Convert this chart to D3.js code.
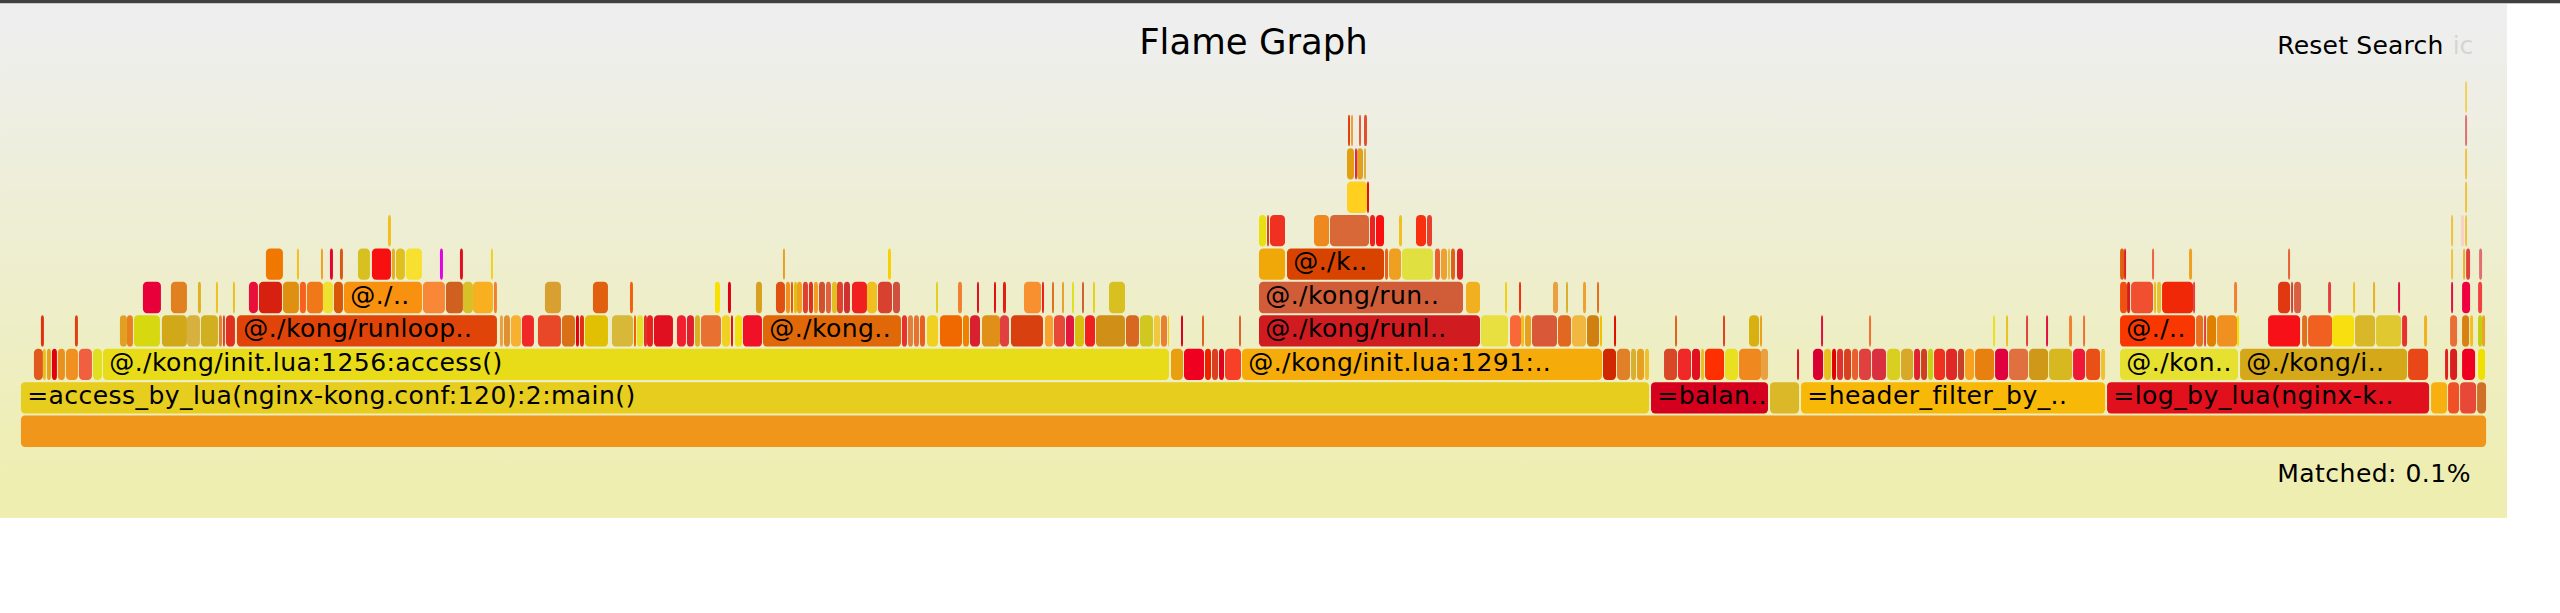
<!DOCTYPE html>
<html><head><meta charset="utf-8">
<script src="https://d3js.org/d3.v7.min.js"></script>
<style>
html,body{margin:0;padding:0;background:#fff;}
#topbar{height:3px;background:#404040;border-bottom:1px solid #c8c8c8;width:2560px;}
#chart svg{display:block;}
text{font-family:Verdana,"DejaVu Sans",sans-serif;}
</style></head><body>
<div id="topbar"></div>
<div id="chart"></div>
<script>
// ---- data: sample offsets / sample counts per stack depth ----
const totalSamples = 2465;
const titleText = "Flame Graph";
const searchText = "Reset Search";
const icText = "ic";
const matchedText = "Matched: 0.1%";

const depth0 = [[0,2465,""]];
const depth1 = [[0,1628,"=access_by_lua(nginx-kong.conf:120):2:main()"],[1630,117,"=balan.."],[1749,29],[1780,304,"=header_filter_by_.."],[2086,322,"=log_by_lua(nginx-k.."],[2410,16],[2427,11],[2439,16],[2456,9]];
const depth2 = [[13,9],[22,3],[26,4],[31,5],[37,7],[45,12],[58,13],[72,9],[82,1066,"@./kong/init.lua:1256:access()"],[1150,12],[1163,20],[1184,6],[1191,6],[1198,5],[1204,16],[1221,360,"@./kong/init.lua:1291:.."],[1582,13],[1596,13],[1610,5],[1616,7],[1624,4],[1643,13],[1657,13],[1671,8],[1680,3],[1684,19],[1704,13],[1718,22],[1740,7],[1776,2],[1792,10],[1803,7],[1811,4],[1816,6],[1823,7],[1831,6],[1838,12],[1851,14],[1866,13],[1880,12],[1893,6],[1900,6],[1907,5],[1913,11],[1925,11],[1937,6],[1944,9],[1954,19],[1974,13],[1988,19],[2008,19],[2028,23],[2052,12],[2065,14],[2080,4],[2099,118,"@./kon.."],[2219,167,"@./kong/i.."],[2387,20],[2424,3],[2429,7],[2441,13],[2457,7]];
const depth3 = [[20,3],[54,3],[99,7],[106,6],[113,26],[141,25],[166,13],[180,17],[198,3],[202,2],[205,9],[216,260,"@./kong/runloop.."],[479,3],[483,6],[490,10],[501,12],[517,23],[541,13],[555,3],[559,4],[564,23],[591,21],[613,2],[616,6],[623,3],[626,6],[633,19],[656,9],[666,7],[674,5],[680,20],[701,8],[710,2],[714,7],[722,19],[742,138,"@./kong.."],[881,5],[887,5],[893,5],[899,5],[906,11],[919,22],[942,6],[949,10],[961,18],[979,9],[990,32],[1024,8],[1033,11],[1045,8],[1054,9],[1064,10],[1075,29],[1105,13],[1119,13],[1133,6],[1140,6],[1147,1],[1160,2],[1181,2],[1218,2],[1238,221,"@./kong/runl.."],[1460,27],[1489,11],[1500,3],[1504,6],[1511,25],[1537,13],[1551,14],[1566,12],[1579,2],[1593,2],[1654,2],[1702,2],[1728,10],[1739,2],[1800,2],[1848,2],[1972,2],[1985,2],[2005,2],[2025,2],[2048,3],[2062,2],[2099,75,"@./.."],[2175,7],[2183,2],[2186,9],[2196,20],[2216,2],[2247,32],[2281,5],[2287,24],[2311,22],[2334,20],[2355,25],[2381,5],[2403,3],[2429,7],[2441,7],[2449,3],[2457,4],[2461,3]];
const depth4 = [[122,18],[150,16],[177,3],[195,2],[212,2],[228,9],[238,23],[262,16],[279,6],[286,16],[302,10],[313,9],[323,78,"@./.."],[402,22],[425,17],[442,10],[452,20],[473,3],[524,16],[572,15],[609,3],[694,5],[707,3],[735,6],[755,9],[765,4],[770,2],[773,3],[776,5],[782,5],[788,4],[793,4],[798,6],[805,5],[811,5],[816,6],[823,6],[831,15],[846,10],[857,14],[872,7],[915,2],[937,4],[956,2],[973,2],[982,3],[1003,17],[1021,2],[1031,2],[1041,2],[1051,2],[1061,2],[1072,2],[1088,16],[1238,204,"@./kong/run.."],[1445,14],[1484,2],[1498,2],[1532,5],[1545,2],[1562,3],[1576,2],[2099,7],[2106,3],[2110,22],[2133,2],[2136,4],[2141,31],[2172,2],[2213,3],[2257,12],[2270,2],[2273,7],[2307,3],[2332,2],[2352,2],[2377,2],[2430,2],[2441,8],[2457,4]];
const depth5 = [[245,17],[276,2],[300,2],[309,3],[319,3],[337,12],[351,19],[371,3],[375,9],[385,16],[419,3],[439,3],[470,2],[762,2],[867,3],[1238,26],[1266,97,"@./k.."],[1364,3],[1368,12],[1381,31],[1414,5],[1420,6],[1427,2],[1430,4],[1436,6],[2099,4],[2103,2],[2131,2],[2168,3],[2267,2],[2430,2],[2442,2],[2445,4],[2458,3]];
const depth6 = [[367,3],[1238,7],[1246,2],[1249,15],[1293,15],[1309,39],[1349,5],[1355,8],[1378,3],[1395,10],[1406,5],[2430,2],[2440,3],[2444,2]];
const depth7 = [[1326,20],[1346,2],[2444,2]];
const depth8 = [[1326,7],[1334,2],[1336,6],[1343,2],[2444,2]];
const depth9 = [[1327,2],[1330,2],[1338,2],[1343,3],[2444,2]];
const depth10 = [[2444,2]];

// ---- frame fills (random "hot" palette as in the picture), parallel to the rows above ----
const fill0 = ["#f0961a"];
const fill1 = ["#e6cd1e","#d4001e","#dab828","#f8b808","#e0101c","#f8b010","#f05028","#e84838","#d07028"];
const fill2 = ["#e05a20","#e8c020","#e8a020","#e00010","#e89020","#f09020","#f06040","#e0e020","#e8dc18","#e8a010","#f00020","#f02000","#d84020","#e00020","#f84028","#f5ac0a","#d02800","#e08028","#d8b030","#e8a020","#f0c030","#d84828","#f02828","#e01020","#e8c020","#ff3000","#e8e020","#f08820","#e8a040","#e01020","#d80030","#e8c020","#e00000","#e03030","#d84020","#e86030","#e04040","#d83040","#d8d020","#d8a828","#e02030","#d04020","#c8d010","#f03020","#e02828","#c84028","#f8a020","#e88010","#e00040","#e07040","#d09818","#d8b820","#f01838","#e85018","#f0c030","#e6e030","#d4a818","#e84818","#e02020","#d82020","#f00020","#f0e000"];
const fill3 = ["#e03010","#e04010","#e0a020","#e88020","#d8d810","#d0a818","#d8b040","#d0b020","#e08030","#e04020","#e03020","#e04408","#e8a040","#e09030","#f8b030","#f02828","#e84828","#d87018","#e00010","#e03010","#e0c000","#d8b838","#f06000","#e8e020","#e03020","#e82020","#e01020","#f02030","#e02030","#d8b020","#e87030","#f0d020","#e01010","#f0e010","#f01028","#e06808","#e83030","#e08040","#e87030","#e86020","#f0d020","#f06800","#f08000","#d82030","#e09018","#e04040","#d84010","#f8a030","#e84838","#e01840","#d8c010","#f02020","#d09018","#d86820","#d0c820","#f0c840","#e88030","#f0d000","#d80020","#e06020","#e06030","#d01c20","#e8e040","#f86838","#f0c020","#e8a020","#d85838","#e06820","#f0b840","#d08010","#f0c000","#e01000","#e06020","#e04020","#d8b010","#e8a020","#e01040","#f07030","#e8e020","#e8c020","#e04040","#e01040","#f08030","#f07030","#f83800","#e87020","#e04040","#e08000","#f09020","#f0e000","#f81018","#e07020","#f06020","#f8e010","#d8b828","#e0c830","#e83030","#f0b020","#e87038","#d88010","#f0c020","#c0d010","#f0a020"];
const fill4 = ["#e8003a","#e08020","#e0b020","#f0c020","#e8c020","#e8103a","#d82010","#e09010","#f86020","#f07818","#f0e030","#d85808","#f89010","#f88838","#d06020","#d8c028","#f8b020","#f08030","#d8a030","#e06010","#f06010","#f8e000","#e00010","#d8a020","#e05010","#f09020","#f05000","#e0c010","#f0a020","#e04030","#e03020","#f0a020","#d05030","#e06040","#e0c020","#e04030","#d03030","#f02020","#f0c020","#d84030","#d05040","#e0d020","#f08030","#e01020","#e01010","#e02010","#f89030","#e82020","#e07020","#e8a030","#e0e020","#d06030","#e8d020","#d8c020","#d05c38","#f0b020","#f0d010","#f03010","#e8a040","#d8b030","#f0a030","#e07020","#f05010","#d02020","#f05030","#e0c020","#e8c030","#f02808","#e04040","#f08030","#e03810","#d04040","#d86040","#e04040","#f0c020","#e8b020","#e01040","#e01040","#f00040","#f04040"];
const fill5 = ["#f07800","#f0c020","#f0a020","#e80030","#d85818","#d8c020","#f81010","#e0b020","#e0c020","#f8e030","#e600e6","#e01020","#f0d020","#e8a020","#f8d000","#f0a808","#d84400","#e86020","#f0a020","#e0e040","#e86030","#f0a030","#e0c040","#e06020","#e02020","#e06010","#e02020","#f06040","#f0a020","#e86030","#f0c040","#f0b020","#e04040","#e07070"];
const fill6 = ["#f0c020","#e8e010","#e04010","#f03020","#f08820","#d86838","#f02020","#f81010","#f0c020","#f83010","#e84030","#f0c040","#f8d0c8","#f0c040"];
const fill7 = ["#ffd020","#e01010","#f0c040"];
const fill8 = ["#e0a010","#e02060","#e0a020","#e0b040","#f0c040"];
const fill9 = ["#e04010","#f0a030","#e06040","#e05030","#e07070"];
const fill10 = ["#f0d060"];

const rows = [depth0,depth1,depth2,depth3,depth4,depth5,depth6,depth7,depth8,depth9,depth10];
const fills = [fill0,fill1,fill2,fill3,fill4,fill5,fill6,fill7,fill8,fill9,fill10];

// ---- layout (flamegraph.pl geometry, scaled) ----
const W = 1200, xpad = 10, frameH = 16, framePad = 1, fontSize = 12;
const ypad1 = fontSize*3, ypad2 = fontSize*2 + 10;
const H = (rows.length)*frameH + ypad1 + ypad2;
const pxW = 2507, pxH = H*pxW/W;

const svg = d3.select('#chart').append('svg')
  .attr('width', pxW).attr('height', pxH)
  .attr('viewBox', `0 0 ${W} ${H}`);

const grad = svg.append('defs').append('linearGradient')
  .attr('id','background').attr('x1','0').attr('y1','0').attr('x2','0').attr('y2','1');
grad.append('stop').attr('offset','5%').attr('stop-color','#eeeeee');
grad.append('stop').attr('offset','95%').attr('stop-color','#eeeeb0');
svg.append('rect').attr('x',0).attr('y',0).attr('width',W).attr('height',H).attr('fill','url(#background)');

svg.append('text').attr('x', W/2).attr('y', fontSize*2).attr('text-anchor','middle')
  .attr('font-size', fontSize+5).attr('fill','#000').text(titleText);
svg.append('text').attr('x', W - xpad - 100).attr('y', fontSize*2)
  .attr('font-size', fontSize).attr('letter-spacing', 0.1).attr('fill','#000').text(searchText);
svg.append('text').attr('x', W - xpad - 16).attr('y', fontSize*2)
  .attr('font-size', fontSize).attr('fill','#000').attr('opacity',0.1).text(icText);
svg.append('text').attr('x', W - xpad - 100).attr('y', H - ypad2/2)
  .attr('font-size', fontSize).attr('letter-spacing', 0.22).attr('fill','#000').text(matchedText);

const x = d3.scaleLinear().domain([0, totalSamples]).range([xpad, W - xpad]);
const y = d3.scaleLinear().domain([0, rows.length]).range([H - ypad2, H - ypad2 - rows.length*frameH]);

const frames = svg.append('g').attr('id','frames');
rows.forEach((row, d) => {
  const data = row.map((f, i) => ({s: f[0], n: f[1], name: f[2] || '', fill: fills[d][i] || '#e06020'}));
  const g = frames.append('g').selectAll('g').data(data).join('g');
  const y1 = y(d+1) + framePad, y2 = y(d);
  g.append('rect')
    .attr('x', f => x(f.s))
    .attr('y', y1)
    .attr('width', f => Math.max(0.4, x(f.s + f.n) - x(f.s)))
    .attr('height', y2 - y1)
    .attr('rx', 2).attr('ry', 2)
    .attr('fill', f => f.fill);
  g.filter(f => f.name).append('text')
    .attr('x', f => x(f.s) + 3)
    .attr('y', 3 + (y1 + y2)/2)
    .attr('font-size', fontSize)
    .attr('letter-spacing', 0.2)
    .attr('fill', '#000')
    .text(f => f.name);
});
</script>
</body></html>
